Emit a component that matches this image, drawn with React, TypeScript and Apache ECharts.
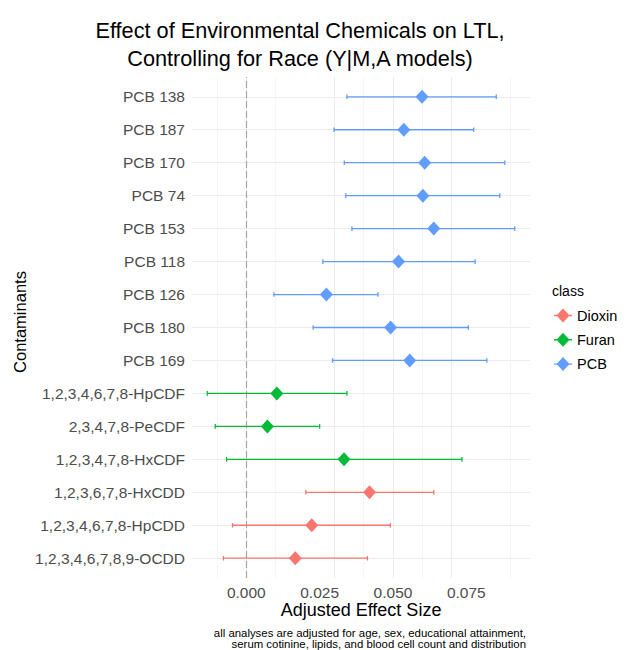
import React, { useEffect, useRef } from "react";
import * as echarts from "echarts";

const categories = [
  "1,2,3,4,6,7,8,9-OCDD",
  "1,2,3,4,6,7,8-HpCDD",
  "1,2,3,6,7,8-HxCDD",
  "1,2,3,4,7,8-HxCDF",
  "2,3,4,7,8-PeCDF",
  "1,2,3,4,6,7,8-HpCDF",
  "PCB 169",
  "PCB 180",
  "PCB 126",
  "PCB 118",
  "PCB 153",
  "PCB 74",
  "PCB 170",
  "PCB 187",
  "PCB 138",
];
const classes = ["Dioxin", "Dioxin", "Dioxin", "Furan", "Furan", "Furan", "PCB", "PCB", "PCB", "PCB", "PCB", "PCB", "PCB", "PCB", "PCB"];
const estimate = [0.0167, 0.0223, 0.042, 0.0333, 0.0072, 0.0104, 0.0557, 0.0492, 0.0273, 0.0519, 0.0639, 0.0602, 0.0608, 0.0537, 0.0599];
const lower = [-0.0078, -0.0047, 0.0203, -0.0067, -0.0106, -0.0133, 0.0294, 0.0228, 0.0094, 0.0261, 0.036, 0.0339, 0.0334, 0.0299, 0.0343];
const upper = [0.0413, 0.0491, 0.0639, 0.0735, 0.025, 0.0343, 0.082, 0.0757, 0.0449, 0.078, 0.0915, 0.0864, 0.0881, 0.0775, 0.0852];

const classNames = ["Dioxin", "Furan", "PCB"];
const classColors = ["#F8766D", "#00BA38", "#619CFF"];
const xTickLabels = [0, 0.025, 0.05, 0.075];
const xMinorGrid = [-0.0125, 0.0125, 0.0375, 0.0625, 0.0875];

const FONT = "Liberation Sans, Arial, Helvetica, sans-serif";
const legendIcon =
  "path://M9,0 L15.5,7 L9,14 L2.5,7 Z M0,6.3 L18,6.3 L18,7.7 L0,7.7 Z";

export default function App() {
  const ref = useRef<HTMLDivElement>(null);
  useEffect(() => {
    if (!ref.current) return;
    const chart = echarts.init(ref.current, null, { renderer: "svg" });

    const series: any[] = [];
    series.push({
      type: "scatter",
      data: [],
      silent: true,
      markLine: {
        silent: true,
        symbol: "none",
        label: { show: false },
        animation: false,
        data: [
          ...categories.map((_, i) => ({ yAxis: i, lineStyle: { color: "#EBEBEB", width: 1, type: "solid" } })),
          ...xTickLabels.map((v) => ({ xAxis: v, lineStyle: { color: "#EBEBEB", width: 1, type: "solid" } })),
          ...xMinorGrid.map((v) => ({ xAxis: v, lineStyle: { color: "#F2F2F2", width: 0.8, type: "solid" } })),
        ],
      },
    });
    series.push({
      type: "scatter",
      data: [],
      silent: true,
      z: 3,
      markLine: {
        silent: true,
        symbol: "none",
        label: { show: false },
        animation: false,
        data: [{ xAxis: 0, lineStyle: { color: "#A6A6A6", width: 1.2, type: [7, 3] } }],
      },
    });

    classNames.forEach((cls, ci) => {
      const color = classColors[ci];
      const idx = categories.map((_, i) => i).filter((i) => classes[i] === cls);
      series.push({
        name: cls,
        type: "custom",
        z: 5,
        itemStyle: { color },
        encode: { x: [0, 1], y: 2 },
        data: idx.map((i) => [lower[i], upper[i], i]),
        renderItem: (params: any, api: any) => {
          const y = api.value(2);
          const p1 = api.coord([api.value(0), y]);
          const p2 = api.coord([api.value(1), y]);
          const h = 2.3;
          const st = { stroke: color, lineWidth: 1.3 };
          return {
            type: "group",
            children: [
              { type: "line", shape: { x1: p1[0], y1: p1[1], x2: p2[0], y2: p2[1] }, style: st },
              { type: "line", shape: { x1: p1[0], y1: p1[1] - h, x2: p1[0], y2: p1[1] + h }, style: st },
              { type: "line", shape: { x1: p2[0], y1: p2[1] - h, x2: p2[0], y2: p2[1] + h }, style: st },
            ],
          };
        },
      });
      series.push({
        name: cls,
        type: "scatter",
        z: 6,
        symbol: "diamond",
        symbolSize: [13, 14],
        itemStyle: { color, opacity: 1 },
        data: idx.map((i) => [estimate[i], i]),
      });
    });

    chart.setOption({
      animation: false,
      backgroundColor: "#ffffff",
      grid: { left: 192, right: 96, top: 77, bottom: 72, containLabel: false },
      xAxis: {
        type: "value",
        min: -0.0185,
        max: 0.0967,
        splitLine: { show: false },
        axisLine: { show: false },
        axisTick: { show: false },
        axisLabel: {
          customValues: xTickLabels,
          formatter: (v: number) => v.toFixed(3),
          color: "#4D4D4D",
          fontSize: 15.5,
          fontFamily: FONT,
          margin: 6,
        },
      },
      yAxis: {
        type: "value",
        min: -0.6,
        max: 14.6,
        splitLine: { show: false },
        axisLine: { show: false },
        axisTick: { show: false },
        axisLabel: {
          customValues: categories.map((_, i) => i),
          formatter: (v: number) => categories[Math.round(v)] ?? "",
          color: "#4D4D4D",
          fontSize: 15.5,
          fontFamily: FONT,
          margin: 7,
        },
      },
      legend: {
        orient: "vertical",
        left: 554,
        top: 308,
        padding: 0,
        itemWidth: 18,
        itemHeight: 14,
        itemGap: 9.3,
        selectedMode: false,
        data: classNames.map((n) => ({ name: n, icon: legendIcon })),
        textStyle: { fontSize: 14.5, fontFamily: FONT, color: "#000000" },
      },
      graphic: [
        {
          type: "text",
          x: 300,
          y: 16,
          style: {
            text: "Effect of Environmental Chemicals on LTL,\nControlling for Race (Y|M,A models)",
            fontSize: 21.7,
            lineHeight: 28,
            fontFamily: FONT,
            fill: "#000000",
            align: "center",
            verticalAlign: "top",
          },
        },
        {
          type: "text",
          x: 361,
          y: 610,
          style: {
            text: "Adjusted Effect Size",
            fontSize: 18,
            fontFamily: FONT,
            fill: "#000000",
            align: "center",
            verticalAlign: "middle",
          },
        },
        {
          type: "text",
          x: 20,
          y: 322,
          rotation: Math.PI / 2,
          style: {
            text: "Contaminants",
            fontSize: 16.5,
            fontFamily: FONT,
            fill: "#000000",
            align: "center",
            verticalAlign: "middle",
          },
        },
        {
          type: "text",
          x: 552,
          y: 291,
          style: {
            text: "class",
            fontSize: 14,
            fontFamily: FONT,
            fill: "#000000",
            align: "left",
            verticalAlign: "middle",
          },
        },
        {
          type: "text",
          x: 526,
          y: 627,
          style: {
            text: "all analyses are adjusted for age, sex, educational attainment,\nserum cotinine, lipids, and blood cell count and distribution",
            fontSize: 11.4,
            lineHeight: 11.5,
            fontFamily: FONT,
            fill: "#000000",
            align: "right",
            verticalAlign: "top",
          },
        },
      ],
      series,
    });
    return () => chart.dispose();
  }, []);
  return (
    <div
      ref={ref}
      style={{ position: "fixed", left: 0, top: 0, width: 626, height: 650, background: "#fff" }}
    />
  );
}
